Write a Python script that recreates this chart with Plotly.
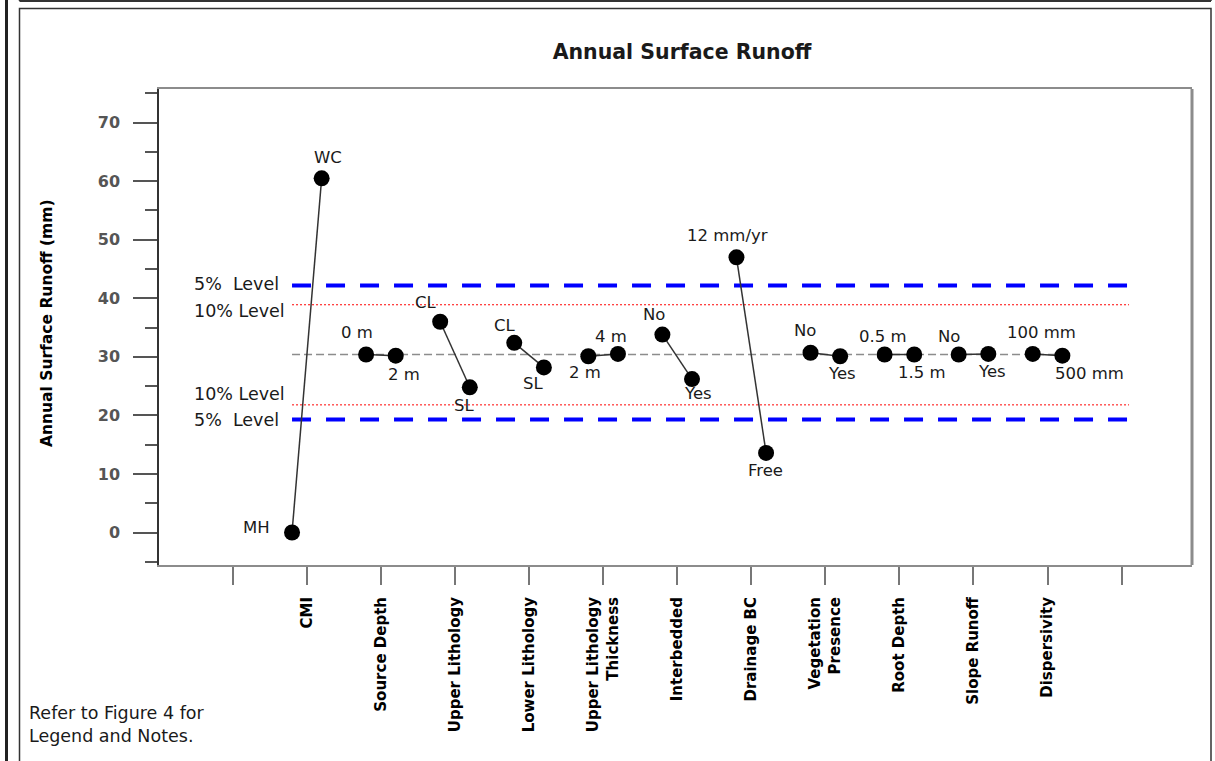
import plotly.graph_objects as go

# ---- data -------------------------------------------------------------
factors = ["CMI", "Source Depth", "Upper Lithology", "Lower Lithology",
           "Upper Lithology<br>Thickness", "Interbedded", "Drainage BC",
           "Vegetation<br>Presence", "Root Depth", "Slope Runoff", "Dispersivity"]

level_a = ["MH", "0 m", "CL", "CL", "2 m", "No", "12 mm/yr", "No", "0.5 m", "No", "100 mm"]
level_b = ["WC", "2 m", "SL", "SL", "4 m", "Yes", "Free", "Yes", "1.5 m", "Yes", "500 mm"]

runoff_a = [0.0, 30.4, 36.0, 32.4, 30.1, 33.8, 47.0, 30.7, 30.4, 30.4, 30.5]
runoff_b = [60.5, 30.2, 24.8, 28.2, 30.5, 26.2, 13.6, 30.1, 30.4, 30.5, 30.2]

base_runoff = 30.4
level_5pct = (19.3, 42.2)
level_10pct = (21.8, 38.9)

y_tick_values = [0, 10, 20, 30, 40, 50, 60, 70]

# ---- layout geometry ----------------------------------------------------
W, H = 1215, 761
ML, MR, MT, MB = 159, 23, 89, 196
PW, PH = W - ML - MR, H - MT - MB


def px(x):
    return (x - ML) / PW


def py(y):
    return (H - MB - y) / PH


pair_offset = 0.2
positions = list(range(1, len(factors) + 1))
line_start = positions[0] - pair_offset
line_end_mean = positions[-1] + pair_offset
line_end_levels = 12.1

# label offsets in pixels (dx, dy up)
shift_a = [(-20, 5), (-9, 22), (-14, 19), (-9, 17), (-3, -16), (-8, 20),
           (-9, 22), (-6, 22), (-2, 18), (-10, 18), (9, 21)]
shift_b = [(6, 21), (8, -19), (-6, -18), (-11, -16), (-7, 17), (6, -14),
           (-1, -18), (2, -17), (8, -18), (4, -18), (27, -18)]

FONT = "DejaVu Sans"

fig = go.Figure()

# significance bands
for val, color, width, dash in [
    (level_5pct[1], "#0000ff", 4, "19px,15px"),
    (level_5pct[0], "#0000ff", 4, "19px,15px"),
    (level_10pct[1], "#ff0000", 1, "2px,2px"),
    (level_10pct[0], "#ff0000", 1, "2px,2px"),
]:
    fig.add_trace(go.Scatter(x=[line_start, line_end_levels], y=[val, val], mode="lines",
                             line=dict(color=color, width=width, dash=dash),
                             hoverinfo="skip", showlegend=False))

# base case line
fig.add_trace(go.Scatter(x=[line_start, line_end_mean], y=[base_runoff, base_runoff], mode="lines",
                         line=dict(color="#8c8c8c", width=1.5, dash="8px,4px"),
                         hoverinfo="skip", showlegend=False))

# factor pairs
for p, ya, yb in zip(positions, runoff_a, runoff_b):
    fig.add_trace(go.Scatter(
        x=[p - pair_offset, p + pair_offset], y=[ya, yb], mode="lines+markers",
        line=dict(color="#333333", width=1.5),
        marker=dict(color="black", size=16),
        showlegend=False))

annotations = []
for p, ya, yb, la, lb, sa, sb in zip(positions, runoff_a, runoff_b, level_a, level_b, shift_a, shift_b):
    xa_anchor = "right" if la == "MH" else "center"
    annotations.append(dict(x=p - pair_offset, y=ya, xref="x", yref="y", text=la, showarrow=False,
                            xanchor=xa_anchor, yanchor="middle", xshift=sa[0], yshift=sa[1],
                            font=dict(family=FONT, size=16.5, color="#1a1a1a")))
    annotations.append(dict(x=p + pair_offset, y=yb, xref="x", yref="y", text=lb, showarrow=False,
                            xanchor="center", yanchor="middle", xshift=sb[0], yshift=sb[1],
                            font=dict(family=FONT, size=16.5, color="#1a1a1a")))

# band labels
for val, txt, ys in [(level_5pct[1], "5%\u00a0 Level", 1), (level_10pct[1], "10% Level", -6),
                     (level_10pct[0], "10% Level", 11), (level_5pct[0], "5%\u00a0 Level", 0)]:
    annotations.append(dict(x=px(192), y=val, xref="paper", yref="y", text=txt, showarrow=False,
                            xanchor="left", yanchor="middle", yshift=ys,
                            font=dict(family=FONT, size=17.5, color="#1a1a1a")))

# y-axis title
annotations.append(dict(x=px(47), y=py(323), xref="paper", yref="paper",
                        text="Annual Surface Runoff (mm)", textangle=-90, showarrow=False,
                        xanchor="center", yanchor="middle",
                        font=dict(family=FONT, size=15.5, color="black", weight="bold")))

# footnote
annotations.append(dict(x=px(27), y=py(724.5), xref="paper", yref="paper",
                        text="Refer to Figure 4 for<br>Legend and Notes.", showarrow=False,
                        xanchor="left", yanchor="middle", align="left",
                        font=dict(family=FONT, size=17.5, color="#1a1a1a")))

shapes = [
    # page frame
    dict(type="line", xref="paper", yref="paper", x0=px(6.5), x1=px(6.5), y0=py(-5), y1=py(770),
         line=dict(color="#222222", width=3)),
    dict(type="rect", xref="paper", yref="paper", x0=px(19.5), x1=px(1211), y0=py(8.5), y1=py(775),
         line=dict(color="#333333", width=1.5)),
    dict(type="line", xref="paper", yref="paper", x0=px(19.5), x1=px(1211), y0=py(1), y1=py(1),
         line=dict(color="#333333", width=2)),
    dict(type="line", xref="paper", yref="paper", x0=px(19.5), x1=px(19.5), y0=py(-5), y1=py(1),
         line=dict(color="#333333", width=1.5)),
    dict(type="line", xref="paper", yref="paper", x0=px(1211), x1=px(1211), y0=py(-5), y1=py(1),
         line=dict(color="#333333", width=1.5)),
    # right edge of plot frame
    dict(type="line", xref="paper", yref="paper", x0=1, x1=1, y0=0, y1=1,
         line=dict(color="#8c8c8c", width=3)),
]

fig.update_layout(
    width=W, height=H, autosize=False,
    margin=dict(l=ML, r=MR, t=MT, b=MB, pad=0),
    paper_bgcolor="white", plot_bgcolor="white",
    font=dict(family=FONT, color="black"),
    title=dict(text="Annual Surface Runoff", x=px(682), xref="paper", xanchor="center",
               y=1 - 52 / H, yref="container", yanchor="middle",
               font=dict(family=FONT, size=20.5, color="#1a1a1a", weight="bold")),
    showlegend=False,
    annotations=annotations,
    shapes=shapes,
)

fig.update_xaxes(
    range=[-0.996, 12.95], showgrid=False, zeroline=False,
    tickmode="array", tickvals=list(range(0, len(factors) + 2)),
    ticktext=[""] + factors + [""],
    tickangle=-90, ticks="outside", ticklen=18, tickwidth=2, tickcolor="#777777",
    tickfont=dict(family=FONT, size=15, color="black", weight="bold"),
    ticklabelstandoff=6,
    showline=True, linecolor="#8c8c8c", linewidth=2, mirror=True,
)

fig.update_yaxes(
    range=[-5.55, 75.75], showgrid=False, zeroline=False,
    tickmode="array", tickvals=y_tick_values,
    ticks="outside", ticklen=24, tickwidth=1.5, tickcolor="#555555",
    minor=dict(dtick=5, tick0=0, ticks="outside", ticklen=12, tickwidth=1.5, tickcolor="#555555"),
    tickfont=dict(family=FONT, size=16, color="#555555", weight="bold"),
    ticklabelstandoff=10,
    showline=True, linecolor="#333333", linewidth=1.5, mirror=False,
)

fig.write_html("out.html")
